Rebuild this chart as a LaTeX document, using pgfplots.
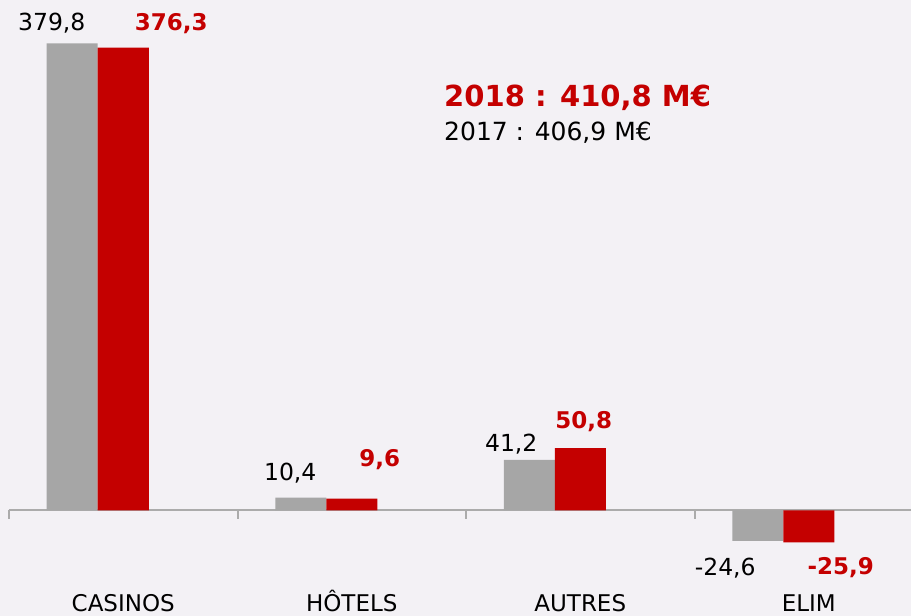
\documentclass[border=0pt]{standalone}
\usepackage{pgfplots}
\pgfplotsset{compat=1.18}
\usepackage{pgfplotstable}
\usepackage{fontspec}
\setmainfont{DejaVu Sans}
\definecolor{bg}{HTML}{F3F1F5}
\definecolor{gbar}{HTML}{A6A6A6}
\definecolor{rbar}{HTML}{C40000}
\definecolor{axisgray}{HTML}{ABABAB}

\pgfplotstableread{
x y lab dx dy
0 379.8 379,8 -20.5 19.9
1 10.4 10,4 -10.5 24.7
2 41.2 41,2 -18 15.8
3 -24.6 -24,6 -32.5 -27.2
}\tablegray
\pgfplotstableread{
x y lab dx dy
0 376.3 376,3 48 24.1
1 9.6 9,6 28 38.7
2 50.8 50,8 3.5 26
3 -25.9 -25,9 32 -25.6
}\tablered

\begin{document}
\begin{tikzpicture}
\useasboundingbox (0,0) rectangle (911pt,616pt);
\fill[bg] (0,0) rectangle (911pt,616pt);
\begin{axis}[
  at={(9pt,0pt)}, anchor=south west,
  scale only axis, width=902pt, height=616pt,
  xmin=-0.5, xmax=3.4475, ymin=-85.77, ymax=415.04,
  axis x line=middle, axis y line=none,
  axis line style={-, draw=axisgray, line width=2pt},
  hide obscured x ticks=false,
  xtick={0,1,2,3}, xticklabels={CASINOS,HÔTELS,AUTRES,ELIM},
  minor xtick={-0.5,0.5,1.5,2.5},
  major tick length=0pt, minor tick length=8pt, tick align=outside,
  tick style={axisgray, line width=2pt},
  xticklabel style={anchor=base, yshift=-101pt, inner sep=0pt, font=\fontsize{23}{27}\selectfont},
  ybar, bar width=51pt,
  clip=false,
  visualization depends on={\thisrow{dx} \as \dx},
  visualization depends on={\thisrow{dy} \as \dy},
]
\addplot[fill=gbar, draw=none, bar shift=-51pt, point meta=explicit symbolic,
  nodes near coords,
  every node near coord/.append style={anchor=center, xshift=\dx pt, yshift=\dy pt,
    text=black, font=\fontsize{23.5}{28}\selectfont}]
  table[x=x, y=y, meta=lab]{\tablegray};
\addplot[fill=rbar, draw=none, bar shift=0pt, point meta=explicit symbolic,
  nodes near coords,
  every node near coord/.append style={anchor=center, xshift=\dx pt, yshift=\dy pt,
    text=rbar, font=\bfseries\fontsize{23}{28}\selectfont}]
  table[x=x, y=y, meta=lab]{\tablered};
\end{axis}
\node[anchor=west, text=rbar, font=\bfseries\fontsize{29}{34}\selectfont, inner sep=0pt] at (444pt,518pt) {2018 : 410,8 M€};
\node[anchor=west, text=black, font=\fontsize{25}{30}\selectfont, inner sep=0pt] at (444pt,483pt) {2017 : 406,9 M€};
\end{tikzpicture}
\end{document}
